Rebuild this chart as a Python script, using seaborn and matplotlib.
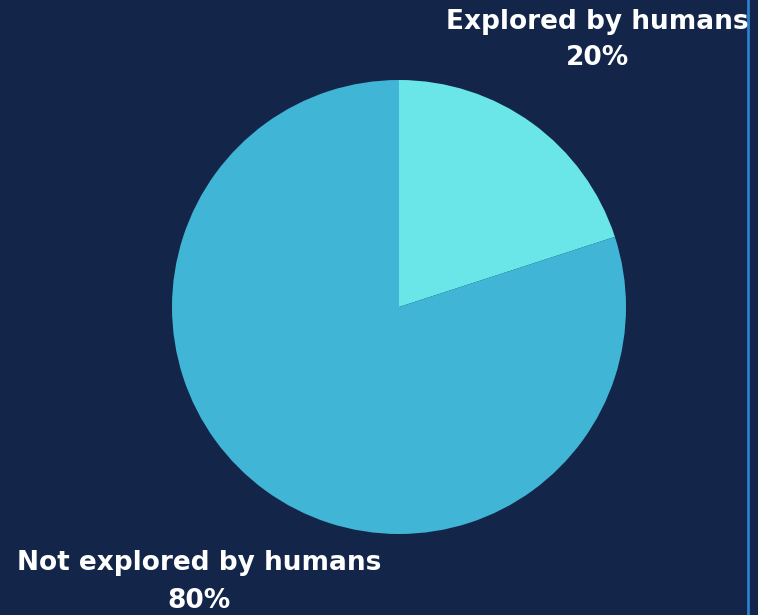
import matplotlib
matplotlib.use("Agg")
import matplotlib.pyplot as plt
import seaborn as sns

categories = ["Explored by humans", "Not explored by humans"]
values = [20, 80]
colors = ["#6ae6e8", "#40b5d6"]

BG = "#13264a"
sns.set_theme(style="white")
plt.rcParams['font.family'] = ['DejaVu Sans']

fig = plt.figure(figsize=(7.58, 6.15), dpi=100, facecolor=BG)
ax = fig.add_axes([0, 0, 1, 1])
ax.set_facecolor(BG)

ax.pie(values, colors=colors, startangle=90, counterclock=False,
       center=(399, 308), radius=227, frame=True,
       wedgeprops=dict(edgecolor='none'))
ax.set_xlim(0, 758)
ax.set_ylim(0, 615)
ax.set_aspect('equal')
ax.axis('off')

# label texts
ax.text(597, 575, f"{categories[0]}\n{values[0]}%", ha='center', va='center',
        color='white', fontsize=19, fontweight='bold', linespacing=1.49)
ax.text(199, 33, f"{categories[1]}\n{values[1]}%", ha='center', va='center',
        color='white', fontsize=19, fontweight='bold', linespacing=1.57)

# right border line
ax.axvline(748, color="#2a7fcf", linewidth=2)

fig.savefig("out.png", dpi=100, facecolor=BG)
